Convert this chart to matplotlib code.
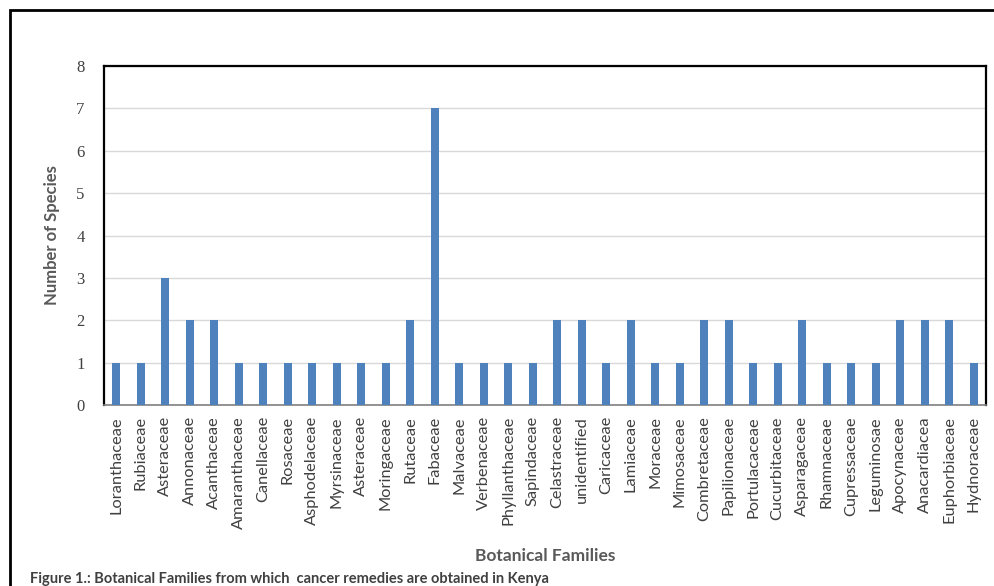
import matplotlib.pyplot as plt
from matplotlib.patches import Rectangle

families = ['Loranthaceae', 'Rubiaceae', 'Asteraceae', 'Annonaceae', 'Acanthaceae',
            'Amaranthaceae', 'Canellaceae', 'Rosaceae', 'Asphodelaceae', 'Myrsinaceae',
            'Asteraceae', 'Moringaceae', 'Rutaceae', 'Fabaceae', 'Malvaceae',
            'Verbenaceae', 'Phyllanthaceae', 'Sapindaceae', 'Celastraceae', 'unidentified',
            'Caricaceae', 'Lamiaceae', 'Moraceae', 'Mimosaceae', 'Combretaceae',
            'Papilionaceae', 'Portulacaceae', 'Cucurbitaceae', 'Asparagaceae', 'Rhamnaceae',
            'Cupressaceae', 'Leguminosae', 'Apocynaceae', 'Anacardiacea', 'Euphorbiaceae',
            'Hydnoraceae']
species = [1, 1, 3, 2, 2, 1, 1, 1, 1, 1, 1, 1, 2, 7, 1, 1, 1, 1, 2, 2,
           1, 2, 1, 1, 2, 2, 1, 1, 2, 1, 1, 1, 2, 2, 2, 1]

fig = plt.figure(figsize=(9.95, 5.86), dpi=100)
W, H = 995, 586
ax = fig.add_axes([104 / W, 1 - 405 / H, (986 - 104) / W, (405 - 66) / H])

x = range(len(families))
ax.bar(x, species, width=0.33, color='#4f81bd', zorder=3)
ax.set_xlim(-0.5, len(families) - 0.5)
ax.set_ylim(0, 8)
ax.set_yticks(range(9))
ax.yaxis.grid(True, color='#d9d9d9', linewidth=1, zorder=0)
ax.set_xticks(list(x))
ax.set_xticklabels(families, rotation=90, fontsize=11.8, color='#404040', family='Lato')
for t in ax.get_yticklabels():
    t.set_family('Liberation Serif')
    t.set_fontsize(12)
    t.set_color('#404040')
ax.tick_params(length=0, pad=8)
ax.tick_params(axis='y', pad=14)

for s in ['top', 'left', 'right']:
    ax.spines[s].set_color('black')
    ax.spines[s].set_linewidth(1.6)
ax.spines['bottom'].set_color('#808080')
ax.spines['bottom'].set_linewidth(1.2)

ax.set_ylabel('Number of Species', fontsize=12, fontweight='bold', color='#595959',
              family='Lato', labelpad=12)
ax.set_xlabel('Botanical Families', fontsize=12.5, fontweight='bold', color='#595959',
              family='Lato', labelpad=14)

fig.text(30 / W, 1 - 579 / H, 'Figure 1.: Botanical Families from which  cancer remedies are obtained in Kenya',
         fontsize=10.5, fontweight='bold', color='#404040', family='Lato', va='center')

# outer frame
fig.patches.append(Rectangle((10 / W, -0.05), 1.1, 1 - 10 / H + 0.05, transform=fig.transFigure,
                             fill=False, edgecolor='black', linewidth=2))

fig.savefig('out.png', dpi=100)
